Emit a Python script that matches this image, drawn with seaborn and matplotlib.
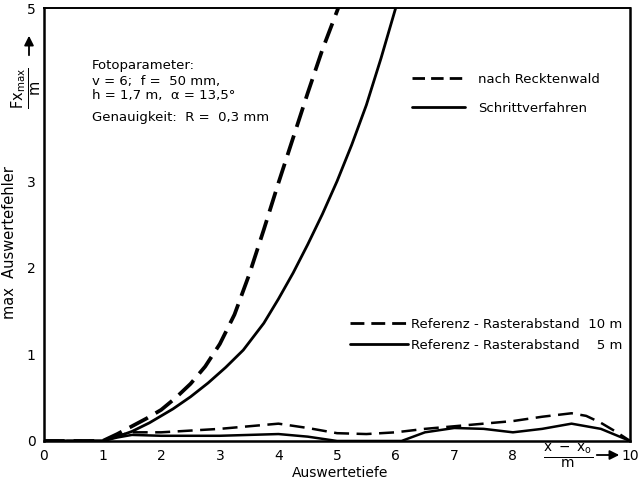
import matplotlib
matplotlib.use("Agg")
import matplotlib.pyplot as plt
import seaborn as sns
import pandas as pd
from matplotlib.lines import Line2D

# values (x in m, y = max Auswertefehler in m)
x_reck = [0, 1.0, 1.25, 1.5, 1.75, 2.0, 2.25, 2.5, 2.75, 3.0, 3.25, 3.5, 3.75, 4.0, 4.25, 4.5, 4.75, 5.02]
y_reck = [0, 0, 0.08, 0.17, 0.26, 0.36, 0.50, 0.66, 0.86, 1.12, 1.46, 1.92, 2.44, 2.98, 3.5, 4.02, 4.52, 5.0]

x_schritt = [0, 1.0, 1.25, 1.5, 1.8, 2.2, 2.5, 2.8, 3.1, 3.4, 3.75, 4.0, 4.25, 4.5, 4.75, 5.0, 5.25, 5.5, 5.75, 6.0]
y_schritt = [0, 0, 0.05, 0.11, 0.21, 0.37, 0.51, 0.67, 0.85, 1.05, 1.36, 1.64, 1.94, 2.27, 2.62, 3.0, 3.42, 3.88, 4.42, 5.0]

x_r10 = [0, 1.0, 1.25, 1.5, 2, 2.5, 3, 3.5, 4, 4.5, 5, 5.5, 6, 6.5, 7, 7.5, 8, 8.5, 9, 9.25, 9.5, 9.75, 10]
y_r10 = [0, 0, 0.06, 0.10, 0.10, 0.12, 0.14, 0.17, 0.20, 0.15, 0.09, 0.08, 0.10, 0.14, 0.17, 0.20, 0.23, 0.28, 0.32, 0.29, 0.21, 0.11, 0]

x_r5 = [0, 1.0, 1.25, 1.5, 2, 2.5, 3, 3.5, 4, 4.5, 4.8, 5.0, 5.5, 6.1, 6.5, 7, 7.5, 8, 8.5, 9, 9.5, 10]
y_r5 = [0, 0, 0.04, 0.07, 0.06, 0.06, 0.06, 0.07, 0.08, 0.05, 0.02, 0.0, 0.0, 0.0, 0.10, 0.15, 0.14, 0.10, 0.14, 0.20, 0.14, 0]

x_ticks = list(range(11))
x_ticklabels = ['0', '1', '2', '3', '4', '5', '6', '7', '8', '', '10']
y_ticks = [0, 1, 2, 3, 4, 5]
y_ticklabels = ['0', '1', '2', '3', '', '5']

sns.set_style('white')
plt.rcParams['font.family'] = ['DejaVu Sans']
plt.rcParams['mathtext.fontset'] = 'dejavusans'
plt.rcParams['text.color'] = 'black'
plt.rcParams['xtick.color'] = 'black'
plt.rcParams['ytick.color'] = 'black'

fig = plt.figure(figsize=(6.43, 4.87), dpi=100)
ax = fig.add_axes([0.0684, 0.0945, 0.9116, 0.889])

series = [
    (x_reck, y_reck, 2.7, (5.5, 2.4)),
    (x_schritt, y_schritt, 2.0, None),
    (x_r10, y_r10, 1.8, (6.0, 3.0)),
    (x_r5, y_r5, 1.8, None),
]
for xs, ys, lw, dash in series:
    df = pd.DataFrame({'x': xs, 'y': ys})
    sns.lineplot(data=df, x='x', y='y', color='black', linewidth=lw, ax=ax,
                 sort=False, estimator=None)
    line = ax.get_lines()[-1]
    line.set_solid_joinstyle('round')
    if dash is not None:
        line.set_dashes(dash)

ax.set_xlim(0, 10)
ax.set_ylim(0, 5)
ax.set_xticks(x_ticks)
ax.set_xticklabels(x_ticklabels, fontsize=10)
ax.set_yticks(y_ticks)
ax.set_yticklabels(y_ticklabels, fontsize=10)
ax.tick_params(axis='both', direction='out', length=3, width=1.2, color='black', pad=3)
ax.set_xlabel('')
ax.set_ylabel('')
for side in ['left', 'bottom', 'right', 'top']:
    ax.spines[side].set_color('black')
    ax.spines[side].set_linewidth(1.8)
ax.spines['top'].set_linewidth(1.4)

# axis labels
fig.text(10 / 643, 1 - 243 / 487, 'max  Auswertefehler', rotation=90,
         ha='center', va='center', fontsize=10.5)
fig.text(340 / 643, 1 - 473 / 487, 'Auswertetiefe', ha='center', va='center', fontsize=10)
fig.text(27 / 643, 1 - 88 / 487, r'$\frac{\mathrm{Fx}_{\mathrm{max}}}{\mathrm{m}}$',
         rotation=90, ha='center', va='center', fontsize=15)
fig.text(568 / 643, 1 - 456 / 487, r'$\frac{\mathrm{x\ -\ x_o}}{\mathrm{m}}$',
         ha='center', va='center', fontsize=14)
ax.annotate('', xy=(29 / 643, 1 - 33 / 487), xytext=(29 / 643, 1 - 58 / 487),
            xycoords='figure fraction', textcoords='figure fraction',
            arrowprops=dict(arrowstyle='-|>', color='black', lw=1.3, mutation_scale=14))
ax.annotate('', xy=(622 / 643, 1 - 455 / 487), xytext=(594 / 643, 1 - 455 / 487),
            xycoords='figure fraction', textcoords='figure fraction',
            arrowprops=dict(arrowstyle='-|>', color='black', lw=1.3, mutation_scale=14))

# photo parameters
fig.text(92 / 643, 1 - 66 / 487, 'Fotoparameter:', fontsize=9.5, va='center')
fig.text(92 / 643, 1 - 81 / 487, 'v = 6;  f =  50 mm,', fontsize=9.5, va='center')
fig.text(92 / 643, 1 - 96 / 487, 'h = 1,7 m,  α = 13,5°', fontsize=9.5, va='center')
fig.text(92 / 643, 1 - 118 / 487, 'Genauigkeit:  R =  0,3 mm', fontsize=9.5, va='center')

# legends
h_reck = Line2D([], [], color='black', lw=2.0, dashes=(4.5, 2.2))
h_schritt = Line2D([], [], color='black', lw=2.0)
leg1 = ax.legend([h_reck, h_schritt], ['nach Recktenwald', 'Schrittverfahren'],
                 loc='upper left', bbox_to_anchor=(412 / 643, 1 - 73 / 487),
                 bbox_transform=fig.transFigure, frameon=False, fontsize=9.5,
                 handlelength=4.0, handletextpad=1.0, labelspacing=1.2,
                 borderpad=0, borderaxespad=0)
ax.add_artist(leg1)

h_r10 = Line2D([], [], color='black', lw=2.0, dashes=(5.0, 2.5))
h_r5 = Line2D([], [], color='black', lw=2.0)
ax.legend([h_r10, h_r5], ['Referenz - Rasterabstand  10 m', 'Referenz - Rasterabstand    5 m'],
          loc='upper left', bbox_to_anchor=(350 / 643, 1 - 318 / 487),
          bbox_transform=fig.transFigure, frameon=False, fontsize=9.5,
          handlelength=4.4, handletextpad=0.2, labelspacing=0.6,
          borderpad=0, borderaxespad=0)

fig.savefig('out.png', dpi=100)
